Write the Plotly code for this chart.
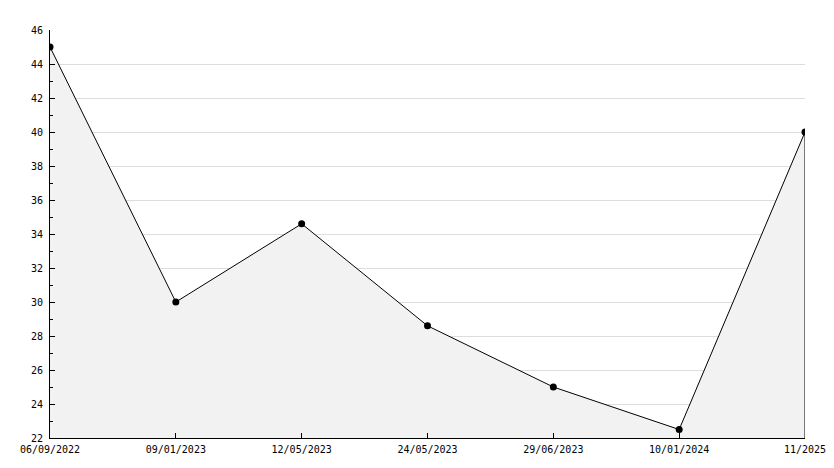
import plotly.graph_objects as go

dates = ["06/09/2022", "09/01/2023", "12/05/2023", "24/05/2023",
         "29/06/2023", "10/01/2024", "11/2025"]
values = [45.0, 30.0, 34.6, 28.6, 25.0, 22.5, 40.0]
y_min, y_max = 22, 46

x_idx = list(range(len(dates)))

fig = go.Figure()

# shaded area under the line
fig.add_trace(go.Scatter(
    x=x_idx, y=values,
    mode="lines+markers",
    fill="tozeroy",
    fillcolor="#f2f2f2",
    line=dict(color="black", width=1),
    marker=dict(color="black", size=7, symbol="circle"),
    hoverinfo="skip",
    showlegend=False,
))

# closing edge of the area on the right
fig.add_trace(go.Scatter(
    x=[x_idx[-1], x_idx[-1]], y=[y_min, values[-1]],
    mode="lines",
    line=dict(color="black", width=1),
    hoverinfo="skip",
    showlegend=False,
))

font = dict(family="DejaVu Sans Mono", size=10, color="black")

# page body adds an 8px offset, margins compensate for it
fig.update_layout(
    width=834, height=468,
    margin=dict(l=42, r=37, t=22, b=38),
    plot_bgcolor="white",
    paper_bgcolor="white",
    font=font,
    showlegend=False,
    xaxis=dict(
        range=[x_idx[0], x_idx[-1]],
        tickvals=x_idx, ticktext=dates,
        showgrid=False, zeroline=False,
        showline=True, linecolor="black", linewidth=1,
        ticks="inside", ticklen=5, tickcolor="black",
        ticklabelstandoff=2,
        tickfont=font,
    ),
    yaxis=dict(
        range=[y_min, y_max],
        dtick=2,
        showgrid=True, gridcolor="#dddddd", gridwidth=1,
        zeroline=False,
        showline=True, linecolor="black", linewidth=1,
        ticks="inside", ticklen=5, tickcolor="black",
        ticklabelstandoff=4,
        minor=dict(dtick=1, ticks="inside", ticklen=3, tickcolor="black", showgrid=False),
        tickfont=font,
    ),
)

fig.write_html("out.html")
